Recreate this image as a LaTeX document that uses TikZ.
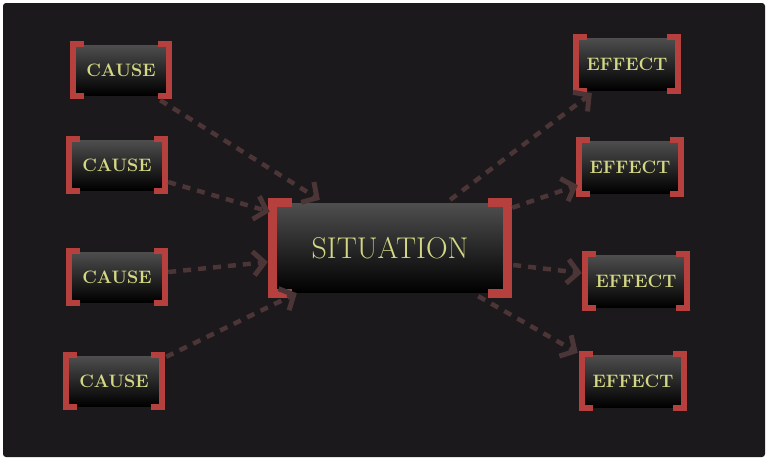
\documentclass[tikz,border=0pt]{standalone}
\usepackage{fontspec}
\usetikzlibrary{arrows.meta}
\definecolor{bgcol}{RGB}{27,25,28}
\definecolor{brk}{RGB}{181,64,62}
\definecolor{txt}{RGB}{212,216,132}
\definecolor{arr}{RGB}{75,53,54}
\definecolor{boxtop}{RGB}{78,78,78}
\begin{document}
\begin{tikzpicture}[x=1pt,y=-1pt]
\tikzset{box/.style={rectangle, inner sep=0pt, minimum width=90pt, minimum height=50pt, top color=boxtop, bottom color=black, text=txt, font=\fontsize{18}{18}\selectfont\bfseries}}
\tikzset{effbox/.style={box, minimum width=95pt, minimum height=52pt}}
\tikzset{bigbox/.style={box, minimum width=226pt, minimum height=89pt, font=\fontsize{30}{30}\selectfont\addfontfeature{LetterSpace=6}}}
\tikzset{link/.style={draw=arr, line width=4.5pt, dash pattern=on 8pt off 7pt, -{Straight Barb[length=11pt,width=24pt,line width=5pt]}}}
\useasboundingbox (0,0) rectangle (768,461);
\fill[white] (0,0) rectangle (768,461);
\fill[bgcol, rounded corners=3pt] (3,3) rectangle (765,457);
\node[box] (c1) at (121,70) {CAUSE};
\node[box] (c2) at (117,165) {CAUSE};
\node[box] (c3) at (117,277) {CAUSE};
\node[box] (c4) at (114,381) {CAUSE};
\node[bigbox] (s) at (390,248) {SITUATION};
\node[effbox] (e1) at (627,64) {EFFECT};
\node[effbox] (e2) at (630,167) {EFFECT};
\node[effbox] (e3) at (636,281) {EFFECT};
\node[effbox] (e4) at (633,381) {EFFECT};
\foreach \n/\w/\o/\a in {c1/6/3/8, c2/6/3/8, c3/6/3/8, c4/6/3/8, e1/6/3/8, e2/6/3/8, e3/6/3/8, e4/6/3/8, s/9.5/4.5/15} {
  \draw[brk, line width=\w pt] ([shift={(\a,-1)}]\n.north west) -| ([shift={(-\o,1)}]\n.south west) -- ++(\a+\o,0);
  \draw[brk, line width=\w pt] ([shift={(-\a,-1)}]\n.north east) -| ([shift={(\o,1)}]\n.south east) -- ++(-\a-\o,0);
}
\draw[link] ([shift={(-6,5)}]c1.south east) -- ([shift={(43,-3.5)}]s.north west);
\draw[link] ([shift={(6,17)}]c2.east) -- ([shift={(-7,8.5)}]s.north west);
\draw[link] ([shift={(6,-5)}]c3.east) -- ([shift={(-9,14)}]s.west);
\draw[link] ([shift={(7,1)}]c4.north east) -- ([shift={(20,0.5)}]s.south west);
\draw[link] ([shift={(-53,-3.5)}]s.north east) -- ([shift={(12.5,3)}]e1.south west);
\draw[link] ([shift={(9,4.5)}]s.north east) -- ([shift={(-4.5,-8)}]e2.south west);
\draw[link] ([shift={(10,17)}]s.east) -- ([shift={(-6.5,-8)}]e3.west);
\draw[link] ([shift={(-25,3.5)}]s.south east) -- ([shift={(-7.5,-2)}]e4.north west);
\end{tikzpicture}
\end{document}
